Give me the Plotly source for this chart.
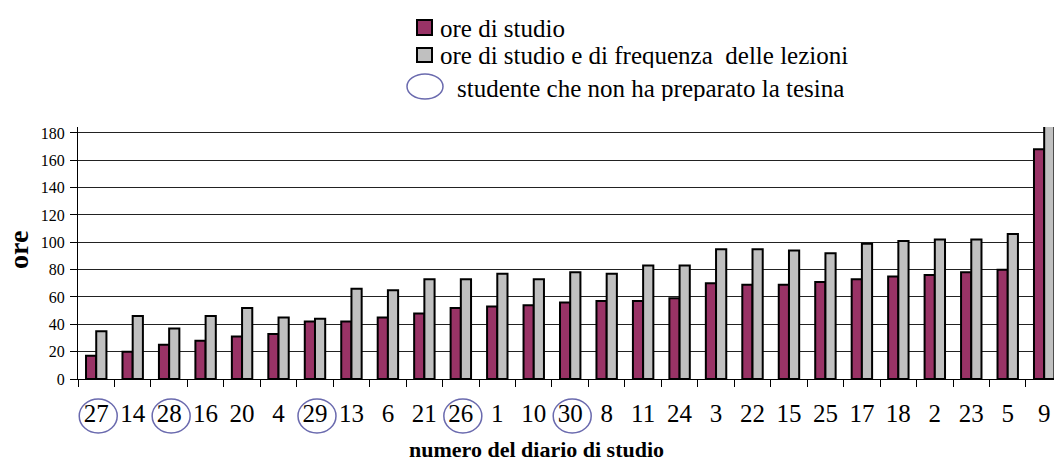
import plotly.graph_objects as go

# ---------------- data ----------------
diari = ["27", "14", "28", "16", "20", "4", "29", "13", "6", "21", "26", "1", "10", "30",
         "8", "11", "24", "3", "22", "15", "25", "17", "18", "2", "23", "5", "9"]
ore_studio = [17, 20, 25, 28, 31, 33, 42, 42, 45, 48, 52, 53, 54, 56,
              57, 57, 59, 70, 69, 69, 71, 73, 75, 76, 78, 80, 168]
ore_studio_frequenza = [35, 46, 37, 46, 52, 45, 44, 66, 65, 73, 73, 77, 73, 78,
                        77, 83, 83, 95, 95, 94, 92, 99, 101, 102, 102, 106, 196]
senza_tesina = ["27", "28", "29", "26", "30"]
y_ticks = [0, 20, 40, 60, 80, 100, 120, 140, 160, 180]

serie_1 = "ore di studio"
serie_2 = "ore di studio e di frequenza  delle lezioni"
nota = "studente che non ha preparato la tesina"
titolo_x = "numero del diario di studio"
titolo_y = "ore"

# ---------------- layout constants ----------------
W, H = 1054, 472
ML, MR, MT, MB = 78, 0, 127, 93
PW, PH = W - ML - MR, H - MT - MB
CAT_W = 36.46
FONT = "Liberation Serif"
MAROON = "#993366"
GREY = "#C0C0C0"
CIRCLE = "#6A6AAE"


def px_x(p):
    return (p - ML) / PW


def px_y(p):
    return (H - MB - p) / PH


fig = go.Figure()
fig.add_trace(go.Bar(x=diari, y=ore_studio, name=serie_1,
                     marker=dict(color=MAROON, line=dict(color="black", width=2))))
fig.add_trace(go.Bar(x=diari, y=ore_studio_frequenza, name=serie_2,
                     marker=dict(color=GREY, line=dict(color="black", width=2))))

shapes = []
# circles around the labels of students without tesina
for d in senza_tesina:
    shapes.append(dict(type="circle", xref="x", yref="paper",
                       xsizemode="pixel", ysizemode="pixel",
                       xanchor=diari.index(d), x0=-17, x1=21,
                       yanchor=px_y(416), y0=-17, y1=17,
                       line=dict(color=CIRCLE, width=1.5), layer="above"))

# manual legend
shapes.append(dict(type="rect", xref="paper", yref="paper",
                   x0=px_x(417), x1=px_x(432), y0=px_y(20), y1=px_y(35),
                   fillcolor=MAROON, line=dict(color="black", width=2)))
shapes.append(dict(type="rect", xref="paper", yref="paper",
                   x0=px_x(417), x1=px_x(432), y0=px_y(48), y1=px_y(62),
                   fillcolor=GREY, line=dict(color="black", width=2)))
shapes.append(dict(type="circle", xref="paper", yref="paper",
                   x0=px_x(407), x1=px_x(443), y0=px_y(74), y1=px_y(99),
                   line=dict(color=CIRCLE, width=1.5)))

annotations = [
    dict(text=serie_1, xref="paper", yref="paper", x=px_x(439), y=px_y(28),
         xanchor="left", yanchor="middle", showarrow=False, height=26, borderpad=0,
         font=dict(family=FONT, size=25, color="black")),
    dict(text=serie_2.replace("  ", "&nbsp; "), xref="paper", yref="paper", x=px_x(439), y=px_y(55),
         xanchor="left", yanchor="middle", showarrow=False, height=26, borderpad=0,
         font=dict(family=FONT, size=25, color="black")),
    dict(text=nota, xref="paper", yref="paper", x=px_x(456), y=px_y(88),
         xanchor="left", yanchor="middle", showarrow=False, height=26, borderpad=0,
         font=dict(family=FONT, size=25, color="black")),
    dict(text="<b>" + titolo_x + "</b>", xref="paper", yref="paper", x=px_x(536), y=px_y(449),
         xanchor="center", yanchor="middle", showarrow=False,
         font=dict(family=FONT, size=22, color="black")),
    dict(text="<b>" + titolo_y + "</b>", xref="paper", yref="paper", x=px_x(18), y=px_y(250),
         xanchor="center", yanchor="middle", showarrow=False, textangle=-90,
         font=dict(family=FONT, size=28, color="black")),
]

n_vis = PW / CAT_W
fig.update_layout(
    width=W, height=H,
    margin=dict(l=ML, r=MR, t=MT, b=MB, pad=0),
    paper_bgcolor="white", plot_bgcolor="white",
    barmode="group", bargap=0.44, bargroupgap=0,
    showlegend=False,
    shapes=shapes, annotations=annotations,
    font=dict(family=FONT, color="black"),
)
fig.update_xaxes(
    type="category", range=[-0.5, -0.5 + n_vis],
    showline=True, linecolor="black", linewidth=1,
    ticks="outside", tickson="boundaries", ticklen=7, tickcolor="black", tickwidth=1,
    tickfont=dict(family=FONT, size=25, color="black"),
    ticklabelstandoff=12,
    showgrid=False, zeroline=False,
)
fig.update_yaxes(
    range=[0, PH / 1.367], tickvals=y_ticks,
    showline=True, linecolor="black", linewidth=1,
    ticks="outside", ticklen=7, tickcolor="black", tickwidth=1,
    tickfont=dict(family=FONT, size=16, color="black"),
    ticklabelstandoff=2,
    showgrid=True, gridcolor="#222222", gridwidth=1,
    zeroline=False,
)

fig.write_html("out.html", config={"displayModeBar": False},
               post_script="document.body.style.margin='0';document.body.style.overflow='hidden';")
